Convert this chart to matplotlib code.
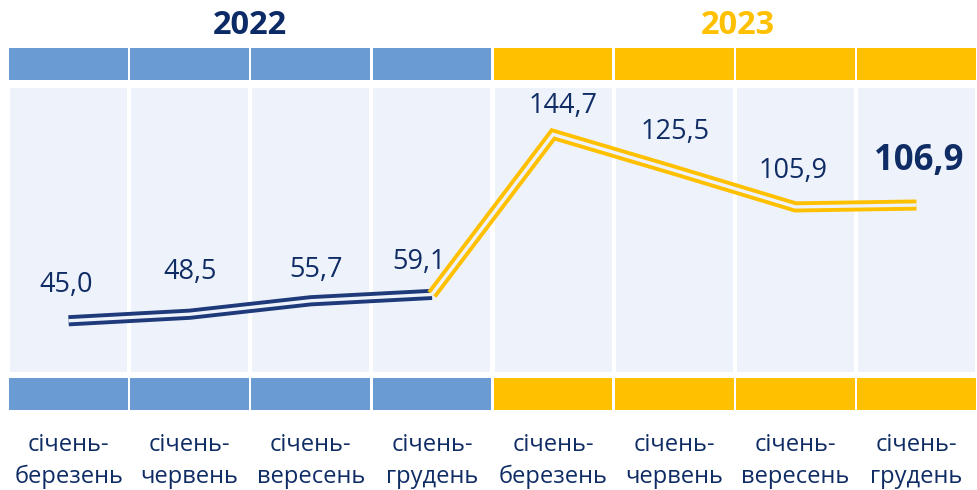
import matplotlib
matplotlib.use("Agg")
import matplotlib.pyplot as plt

plt.rcParams["font.family"] = ["Open Sans", "DejaVu Sans"]

# ---- data ----
periods = ["січень-\nберезень", "січень-\nчервень", "січень-\nвересень", "січень-\nгрудень",
           "січень-\nберезень", "січень-\nчервень", "січень-\nвересень", "січень-\nгрудень"]
years = ["2022", "2023"]
values = [45.0, 48.5, 55.7, 59.1, 144.7, 125.5, 105.9, 106.9]
labels = ["45,0", "48,5", "55,7", "59,1", "144,7", "125,5", "105,9", "106,9"]

BLUE, GOLD, NAVY, TXT, PANEL = "#6A9BD2", "#FFC000", "#1F3A7A", "#0F2C64", "#EEF2FA"

W, H = 977, 490
fig = plt.figure(figsize=(W / 100, H / 100), dpi=100)


def px_axes(x0, y0, x1, y1):
    return fig.add_axes([x0 / W, 1 - y1 / H, (x1 - x0) / W, (y1 - y0) / H])


n = len(values)
xs = [i + 0.5 for i in range(n)]
bar_cols = [BLUE] * 4 + [GOLD] * 4

# top and bottom colour strips
for y0, y1 in ((48, 80), (378, 410)):
    a = px_axes(8, y0, 977, y1)
    a.bar(xs, [1] * n, width=0.98, color=bar_cols, lw=0)
    a.set_xlim(0, n); a.set_ylim(0, 1); a.axis("off")

# main panel
ax = px_axes(8, 88, 977, 372)
ax.bar(xs, [200] * n, width=0.965, color=PANEL, lw=0)
ax.set_xlim(0, n); ax.set_ylim(17.6, 169.5); ax.axis("off")

for seg, col in ((slice(0, 4), NAVY), (slice(3, 8), GOLD)):
    ax.plot(xs[seg], values[seg], color=col, lw=8.0, solid_joinstyle="miter",
            solid_capstyle="butt", zorder=3)
    ax.plot(xs[seg], values[seg], color=PANEL, lw=2.4, solid_joinstyle="miter",
            solid_capstyle="butt", zorder=4)

# value labels (offsets in pixels, label centre relative to point)
offs = [(-2, 36), (0, 42), (5, 31), (-13, 32), (10, 28), (1, 38), (-2, 36), (2, 44)]
for i, (v, t) in enumerate(zip(values, labels)):
    last = i == n - 1
    ax.annotate(t, (xs[i], v), xytext=offs[i], textcoords="offset pixels",
                ha="center", va="center", color=TXT,
                fontsize=25 if last else 19.5, fontweight="bold" if last else "normal",
                zorder=5, annotation_clip=False)

# year headings
fig.text(250 / W, 1 - 25 / H, years[0], ha="center", va="center", fontsize=23.5,
         fontweight="bold", color="#0B2A66")
fig.text(738 / W, 1 - 25 / H, years[1], ha="center", va="center", fontsize=23.5,
         fontweight="bold", color=GOLD)

# period labels
lab = px_axes(8, 426, 977, 496)
lab.set_xlim(0, n); lab.set_ylim(0, 1); lab.axis("off")
for x, p in zip(xs, periods):
    lab.text(x, 0.5, p, ha="center", va="center", fontsize=17, color=TXT,
             linespacing=1.4)

fig.savefig("out.png", dpi=100)
